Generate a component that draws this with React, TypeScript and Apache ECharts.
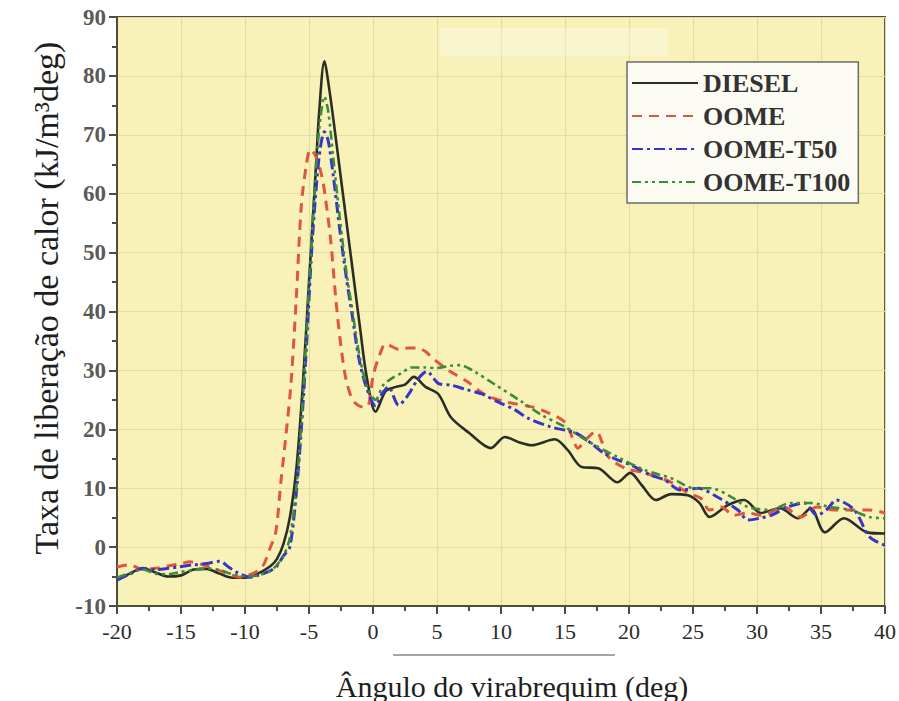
import React, { useEffect, useRef } from "react";
import * as echarts from "echarts";

const seriesNames = ["DIESEL", "OOME", "OOME-T50", "OOME-T100"];

const dieselX = [-20,-19,-18,-17,-16,-15,-14,-13,-12,-11,-10,-9,-8,-7.5,-7,-6.5,-6,-5.5,-5,-4.5,-4.2,-3.8,-3.4,-3,-2.5,-2,-1.5,-1,-0.5,0.2,1,1.8,2.5,3.2,4.1,5.1,6.1,7.5,9.2,10.3,11.4,12.4,14.2,15.2,16.3,17.6,19.1,20.1,21,22.1,23.3,24.6,25.5,26.3,27.7,29,30.3,31.8,33.2,34.2,35.3,36.8,38.6,40];
const dieselY = [-5.5,-4.5,-3.6,-4.3,-5.0,-4.8,-3.8,-3.7,-4.5,-5.2,-5.2,-4.5,-3.2,-2.0,0.5,5,13,27,45,63,74,82.5,77.5,71,62.5,54,45.5,37,29,23,26.5,27.2,27.6,28.9,27.2,26,22,19.4,16.8,18.7,17.8,17.3,18.3,16.5,13.6,13.4,11,12.6,10.5,8,9,8.8,7.5,5.1,7.1,8,5.8,6.6,4.9,6.6,2.5,4.9,2.5,2.3];

const oomeX = [-20,-19,-18,-17,-16,-15,-14.3,-13,-12,-11,-10.4,-9.5,-8.9,-8.5,-8.1,-7.6,-7.2,-6.8,-6.4,-6,-5.6,-5.2,-4.9,-4.5,-4,-3.7,-3.3,-2.9,-2.5,-2.1,-1.6,-1.1,-0.6,-0.3,0,0.5,1,2,2.8,3.5,4.1,4.7,5.9,7.3,8.8,10.5,12.4,13.7,15,15.6,16,16.6,17.4,18.4,19.7,21.2,23.3,24.6,25.6,26.3,27.2,28.2,29.3,30.3,32.1,33.4,34.7,36,37.3,38.8,40];
const oomeY = [-3.4,-3.0,-3.8,-3.6,-3.2,-2.8,-2.5,-3.2,-4.0,-4.8,-5.1,-4.6,-3.9,-2.8,-0.5,2.5,11,19,28,42,58,65,67.5,66.5,63,59,52,42,34,28.4,25,24,23.7,24.5,29,32.5,34.5,33.6,33.8,33.8,33.2,32,30,28.2,25.8,24.6,23.8,22.8,21.2,18.5,16.8,18.2,19.6,15.3,13.4,12.6,11,9.2,8.3,6.3,6.8,5.4,5.8,5.4,6.8,5.1,6.8,6.3,6.3,6.3,5.8];

const t50X = [-20,-19,-18,-17,-16,-15.3,-14,-13,-12,-11.2,-10.7,-9.6,-9,-8,-7.5,-7,-6.5,-6,-5.6,-5.2,-4.8,-4.4,-4.1,-3.8,-3.5,-3.1,-2.6,-2.1,-1.6,-1.1,-0.5,0.2,0.7,1.2,2,2.8,3.5,4.2,5.1,6.1,7.2,8.5,9.8,11.1,12.1,13.9,15.8,17,18,19.1,20.2,21.7,22.8,24,25.4,26.9,28.5,29.3,30.2,31.1,32.4,33.7,34.7,35.5,36.2,37.6,38.8,40];
const t50Y = [-5.6,-4.6,-3.6,-3.8,-3.6,-3.4,-3.0,-2.8,-2.4,-3.5,-4.2,-5.1,-4.8,-4.0,-3.2,-1.5,0,9,20,34,50,62,68,70.5,69,63,54,46,39,32,27,24,26,27.2,24.1,26,28.5,29.8,27.8,27.5,26.8,26,24.6,23.3,21.9,20.4,19.4,17.7,16,14.8,13.9,12.2,11.4,9.7,10,8.5,6.3,4.6,4.9,5.4,6.8,7.5,5.4,6.5,8,6.3,1.7,0.3];

const t100X = [-20,-19,-18,-17,-16,-15,-14,-13,-12,-11,-10,-9,-8,-7.5,-7,-6.5,-6,-5.6,-5.2,-4.8,-4.4,-4.1,-3.8,-3.5,-3.1,-2.6,-2.1,-1.6,-1.1,-0.5,0.2,0.8,1.5,2.2,3,4,4.9,6.1,6.8,8,9.6,11.4,13.2,15,17,19.1,21.2,23.3,25.1,26.4,28,29.3,31.1,32.6,34.2,35.7,37.3,38.8,40];
const t100Y = [-5.2,-4.4,-3.8,-4.5,-4.6,-4.2,-3.9,-3.6,-3.9,-4.6,-5.0,-4.8,-4.0,-3.0,-1.5,1.5,10,21,36,52,66,73,76.5,74,66,56,47,40,33,27.5,25,27.5,28.7,29.5,30.5,30.5,30.4,30.8,30.9,29.7,27.5,25,22.4,20.4,17.7,15.3,13.1,11.7,10,10,8.5,6.8,6.3,7.5,7.5,6.8,6.3,5.1,4.9];

const xTitle = "Ângulo do virabrequim (deg)";
const yTitle = "Taxa de liberação de calor (kJ/m³deg)";

const zip = (xs: number[], ys: number[]) => xs.map((x, i) => [x, ys[i]]);

export default function App() {
  const ref = useRef<HTMLDivElement>(null);
  useEffect(() => {
    if (!ref.current) return;
    const chart = echarts.init(ref.current, null, { renderer: "svg" });
    const serif = "Liberation Serif";
    const mkSeries = (name: string, data: number[][], color: string, width: number, type: any) => ({
      name,
      type: "line",
      data,
      symbol: "none",
      smooth: 0.3,
      lineStyle: { color, width, type },
      itemStyle: { color },
      z: 3,
    });
    chart.setOption({
      animation: false,
      backgroundColor: "#ffffff",
      grid: {
        left: 117,
        right: 11,
        top: 17,
        bottom: 95,
        show: true,
        backgroundColor: "#f8f2b8",
        borderColor: "#4f4d3e",
        borderWidth: 2,
      },
      xAxis: {
        type: "value",
        min: -20,
        max: 40,
        interval: 5,
        axisLine: { show: true, onZero: false, lineStyle: { color: "#4f4d3e", width: 2 } },
        axisTick: { show: true, inside: false, length: 8, lineStyle: { color: "#4f4d3e", width: 2 } },
        minorTick: { show: true, splitNumber: 2, length: 5, lineStyle: { color: "#4f4d3e", width: 2 } },
        splitLine: { show: true, lineStyle: { color: "#e4dda2", width: 1.2 } },
        axisLabel: { fontFamily: serif, fontSize: 22, color: "#2a2a2a", margin: 14 },
      },
      yAxis: {
        type: "value",
        min: -10,
        max: 90,
        interval: 10,
        axisLine: { show: true, onZero: false, lineStyle: { color: "#4f4d3e", width: 2 } },
        axisTick: { show: true, inside: false, length: 8, lineStyle: { color: "#4f4d3e", width: 2 } },
        minorTick: { show: true, splitNumber: 2, length: 5, lineStyle: { color: "#4f4d3e", width: 2 } },
        splitLine: { show: true, lineStyle: { color: "#e4dda2", width: 1.2 } },
        axisLabel: { fontFamily: serif, fontSize: 23, fontWeight: "bold", color: "#5a5a5a", margin: 11 },
      },
      legend: {
        orient: "vertical",
        left: 627,
        top: 62,
        itemWidth: 66,
        itemHeight: 14,
        itemGap: 7,
        padding: [8, 8, 8, 4],
        backgroundColor: "#fbfbf4",
        borderColor: "#6b6b6b",
        borderWidth: 1.5,
        data: seriesNames,
        itemStyle: { opacity: 0, borderWidth: 0 },
        textStyle: { fontFamily: serif, fontSize: 26, fontWeight: "bold", color: "#333333", lineHeight: 26 },
      },
      graphic: [
        {
          type: "rect",
          z: 1,
          silent: true,
          shape: { x: 440, y: 28, width: 228, height: 28 },
          style: { fill: "rgba(250,248,232,0.45)" },
        },
        {
          type: "text",
          x: 46,
          y: 298,
          rotation: Math.PI / 2,
          style: { text: yTitle, fontFamily: serif, fontSize: 34, fill: "#1e1e1e", align: "center", verticalAlign: "middle" },
        },
        {
          type: "text",
          x: 512,
          y: 686,
          style: { text: xTitle, fontFamily: serif, fontSize: 30, fill: "#1e1e1e", align: "center", verticalAlign: "middle" },
        },
        {
          type: "line",
          shape: { x1: 393, y1: 655, x2: 615, y2: 655 },
          style: { stroke: "#8a8a8a", lineWidth: 1.5 },
        },
      ],
      series: [
        mkSeries(seriesNames[0], zip(dieselX, dieselY), "#2a2e26", 2.6, "solid"),
        mkSeries(seriesNames[1], zip(oomeX, oomeY), "#e0553f", 3, [10, 7]),
        mkSeries(seriesNames[2], zip(t50X, t50Y), "#3636c4", 3, [11, 4, 3, 4]),
        mkSeries(seriesNames[3], zip(t100X, t100Y), "#3d8a3b", 2.6, [9, 4, 3, 4, 3, 4]),
      ],
    });
    return () => chart.dispose();
  }, []);
  return <div ref={ref} style={{ position: "fixed", left: 0, top: 0, width: 899, height: 701 }} />;
}
